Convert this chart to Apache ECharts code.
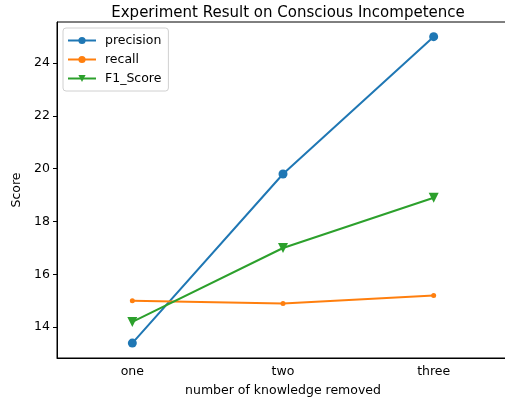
<!DOCTYPE html>
<html>
<head>
<meta charset="utf-8">
<script src="https://cdn.jsdelivr.net/npm/echarts@6/dist/echarts.min.js"></script>
<style>
  html, body { margin: 0; padding: 0; background: #fff; }
  #main { width: 505px; height: 401px; }
</style>
</head>
<body>
<div id="main"></div>
<script>
var categories = ['one', 'two', 'three'];
var precision = [13.4, 19.8, 25.0];
var recall = [15.0, 14.9, 15.2];
var f1Score = [14.2, 17.0, 18.9];
var yTicks = [14, 16, 18, 20, 22, 24];

var chartDom = document.getElementById('main');
var myChart = echarts.init(chartDom, null, { renderer: 'canvas' });
var font = 'DejaVu Sans';

var option = {
    backgroundColor: '#fff',
    animation: false,
    title: {
        text: 'Experiment Result on Conscious Incompetence',
        left: 283,
        top: 1,
        textAlign: 'center',
        textStyle: { fontFamily: font, fontSize: 15, fontWeight: 'normal', color: '#000' }
    },
    legend: {
        orient: 'vertical',
        left: 63,
        top: 28,
        padding: [6, 7, 6, 4],
        itemGap: 6,
        itemWidth: 28,
        itemHeight: 9,
        backgroundColor: '#fff',
        borderColor: '#d0d0d0',
        borderWidth: 1,
        borderRadius: 3,
        textStyle: { fontFamily: font, fontSize: 12.5, color: '#000', padding: [0, 0, 0, 4] },
        data: ['precision', 'recall', 'F1_Score']
    },
    grid: {
        left: 57,
        top: 22,
        bottom: 43,
        width: 452,
        outerBoundsMode: 'none',
        containLabel: false,
        show: true,
        borderColor: '#000',
        borderWidth: 1
    },
    xAxis: {
        type: 'category',
        data: categories,
        boundaryGap: true,
        name: 'number of knowledge removed',
        nameLocation: 'middle',
        nameGap: 26,
        nameTextStyle: { fontFamily: font, fontSize: 12.5, color: '#000' },
        axisLine: { lineStyle: { color: '#000', width: 1 } },
        axisTick: { alignWithLabel: true, length: 4, lineStyle: { color: '#000' } },
        axisLabel: { fontFamily: font, fontSize: 12.5, color: '#000', margin: 7 },
        splitLine: { show: false }
    },
    yAxis: {
        type: 'value',
        min: 12.835,
        max: 25.555,
        name: 'Score',
        nameLocation: 'middle',
        nameGap: 31,
        nameTextStyle: { fontFamily: font, fontSize: 12.5, color: '#000' },
        axisLine: { show: true, lineStyle: { color: '#000', width: 1 } },
        axisTick: { show: true, length: 4, customValues: yTicks, lineStyle: { color: '#000' } },
        axisLabel: { fontFamily: font, fontSize: 12.5, color: '#000', margin: 7, customValues: yTicks },
        splitLine: { show: false }
    },
    series: [
        {
            name: 'precision',
            type: 'line',
            data: precision,
            symbol: 'circle',
            symbolSize: 9,
            showAllSymbol: true,
            lineStyle: { color: '#1f77b4', width: 2 },
            itemStyle: { color: '#1f77b4' }
        },
        {
            name: 'recall',
            type: 'line',
            data: recall,
            symbol: 'circle',
            symbolSize: 5,
            showAllSymbol: true,
            lineStyle: { color: '#ff7f0e', width: 2 },
            itemStyle: { color: '#ff7f0e' }
        },
        {
            name: 'F1_Score',
            type: 'line',
            data: f1Score,
            symbol: 'triangle',
            symbolRotate: 180,
            symbolSize: 10,
            showAllSymbol: true,
            lineStyle: { color: '#2ca02c', width: 2 },
            itemStyle: { color: '#2ca02c' }
        }
    ]
};

option && myChart.setOption(option);
</script>
</body>
</html>
